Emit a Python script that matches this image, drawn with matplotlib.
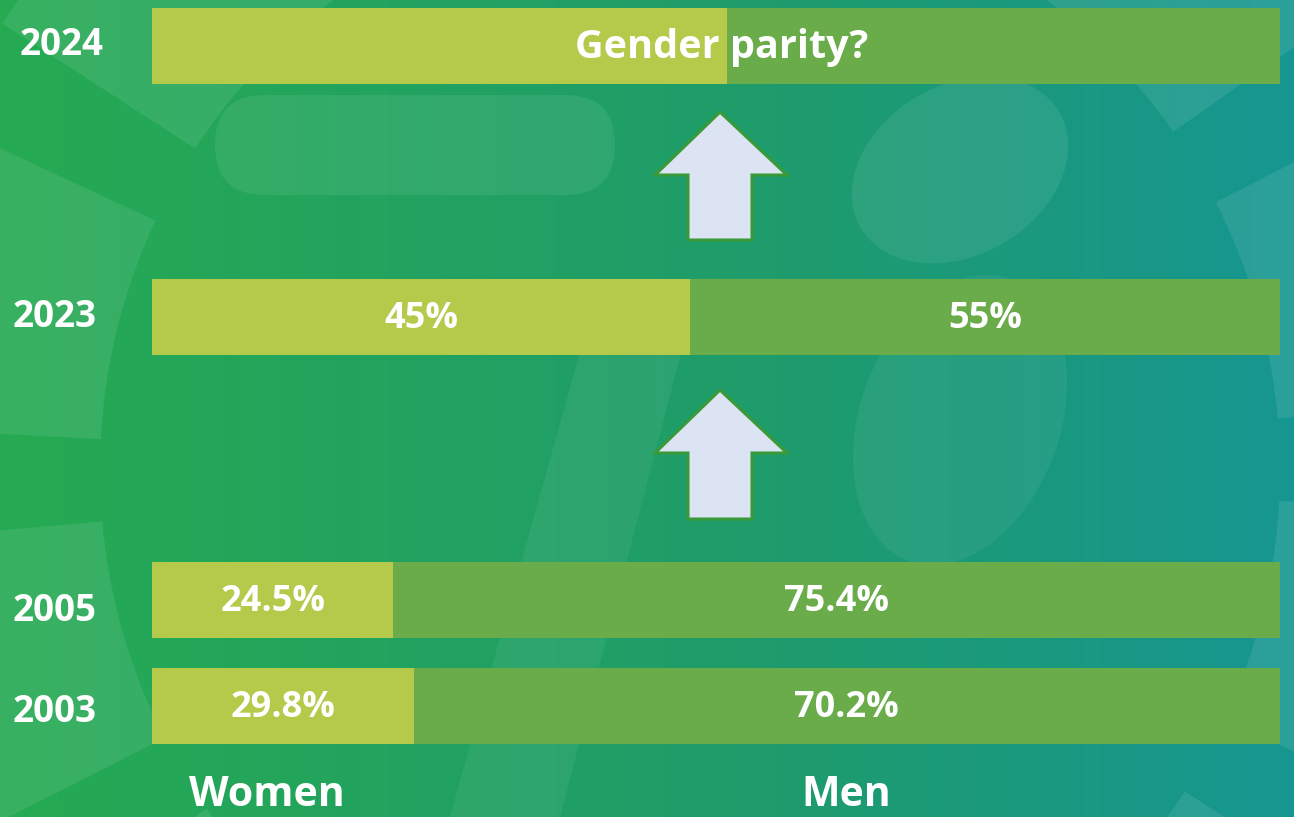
import numpy as np
import matplotlib
matplotlib.use("Agg")
import matplotlib.pyplot as plt
from matplotlib.patches import Polygon, Wedge, FancyBboxPatch, Ellipse

# data
years = ["2024", "2023", "2005", "2003"]
women_drawn = [51.0, 47.7, 21.4, 23.2]   # share of bar length as drawn
women_labels = ["", "45%", "24.5%", "29.8%"]
men_labels = ["", "55%", "75.4%", "70.2%"]
axis_labels = ["Women", "Men"]
title_2024 = "Gender parity?"

women_col = "#b5c94a"
men_col = "#6aab4a"
W, H = 1294, 817
FONT = ["Open Sans", "DejaVu Sans"]

fig = plt.figure(figsize=(W / 100, H / 100), dpi=100)

# background in pixel coords
bg = fig.add_axes([0, 0, 1, 1])
bg.set_xlim(0, W)
bg.set_ylim(H, 0)
bg.axis("off")
c0 = np.array([38, 170, 82]) / 255
c1 = np.array([30, 156, 108]) / 255
c2 = np.array([22, 150, 145]) / 255
t = np.linspace(0, 1, 400)
grad = np.where(t[:, None] < 0.6,
                c0 + (c1 - c0) * (t[:, None] / 0.6),
                c1 + (c2 - c1) * ((t[:, None] - 0.6) / 0.4))
img = np.tile(grad[None, :, :], (50, 1, 1))
bg.imshow(img, extent=[0, W, H, 0], aspect="auto", zorder=0)

# decorative ring segments and blobs
cx, cy = 690, 470
for a0 in range(0, 360, 30):
    bg.add_patch(Wedge((cx, cy), 820, a0 + 3, a0 + 25, width=230,
                       facecolor="white", alpha=0.09, lw=0, zorder=1))
bg.add_patch(FancyBboxPatch((215, 95), 400, 100, boxstyle="round,pad=0,rounding_size=50",
                            facecolor="white", alpha=0.08, lw=0, zorder=1))
bg.add_patch(Ellipse((960, 170), 230, 170, angle=-30, facecolor="white",
                     alpha=0.08, lw=0, zorder=1))
bg.add_patch(Polygon([[600, 280], [700, 280], [560, 817], [450, 817]],
                     facecolor="white", alpha=0.06, lw=0, zorder=1))
bg.add_patch(Ellipse((960, 420), 200, 300, angle=20, facecolor="white",
                     alpha=0.06, lw=0, zorder=1))

# arrows
for tip, base, bottom in [(112, 175, 240), (390, 453, 519)]:
    pts = [[720, tip], [787, base], [752, base], [752, bottom],
           [688, bottom], [688, base], [655, base]]
    bg.add_patch(Polygon(pts, closed=True, facecolor="#dce4f4",
                         edgecolor="#3a9a3a", lw=2.2, zorder=3))

# bars
ax = fig.add_axes([152 / W, 0, 1128 / W, 1])
ax.set_xlim(0, 100)
ax.set_ylim(H, 0)
ax.axis("off")
ax.patch.set_alpha(0)
ypos = [46, 317, 600, 706]
men_drawn = [100 - w for w in women_drawn]
ax.barh(ypos, women_drawn, height=76, color=women_col, zorder=2)
ax.barh(ypos, men_drawn, left=women_drawn, height=76, color=men_col, zorder=2)

txt = dict(color="white", fontweight="bold", family=FONT, ha="center", va="center")
for y, w, m, wl, ml in zip(ypos, women_drawn, men_drawn, women_labels, men_labels):
    if wl:
        ax.text(w / 2, y + 2, wl, fontsize=26, **txt)
        ax.text(w + m / 2, y + 2, ml, fontsize=26, **txt)
ax.text(50.5, ypos[0] + 1, title_2024, fontsize=28.5, **txt)

year_x = [62, 55, 55, 55]
year_dy = [-1, 0, 11, 6]
for yr, y, x, dy in zip(years, ypos, year_x, year_dy):
    bg.text(x, y + dy, yr, fontsize=26.5, zorder=4, **txt)

bg.text(267, 796, axis_labels[0], fontsize=29.5, zorder=4, **txt)
bg.text(846, 796, axis_labels[1], fontsize=29.5, zorder=4, **txt)

fig.savefig("out.png", dpi=100)
